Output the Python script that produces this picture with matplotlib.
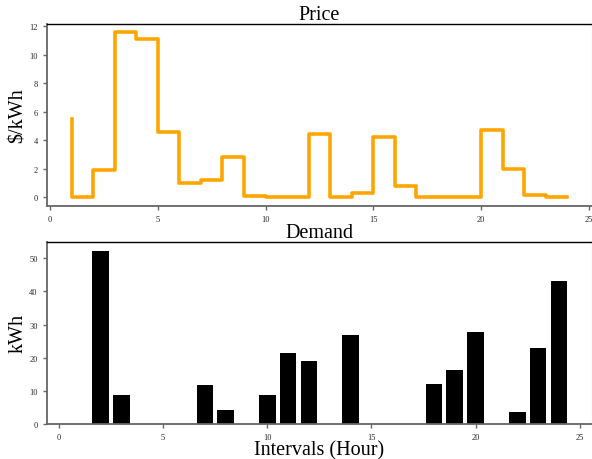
import matplotlib
matplotlib.use("Agg")
import matplotlib.pyplot as plt
import numpy as np

plt.rcParams['font.family'] = ['Liberation Serif', 'DejaVu Serif']

intervals = list(range(1, 25))
price = [5.5, 0.0, 1.9, 11.6, 11.1, 4.6, 1.0, 1.2, 2.85, 0.1, 0.0, 0.0,
         4.45, 0.0, 0.3, 4.2, 0.8, 0.0, 0.0, 0.0, 4.75, 2.0, 0.15, 0.0]
demand = [0.0, 52.4, 8.7, 0.0, 0.0, 0.0, 11.8, 4.1, 0.0, 8.7, 21.5, 19.1,
          0.0, 26.7, 0.0, 0.0, 0.0, 12.0, 16.3, 27.6, 0.0, 3.55, 23.0, 43.2]

fig = plt.figure(figsize=(5.92, 4.6), dpi=100)
ax1 = fig.add_axes([0.079, 0.551, 0.921, 0.395])
ax2 = fig.add_axes([0.079, 0.077, 0.921, 0.395])

ax1.step(intervals, price, where='pre', color='#FFA500', lw=2.6)
ax1.set_title('Price', fontsize=14.5, pad=2)
ax1.set_ylabel('\\$/kWh', fontsize=14.5, labelpad=1)
ax1.set_yticks([0, 2, 4, 6, 8, 10, 12])
ax1.set_xticks([0, 5, 10, 15, 20, 25])

ax2.bar(intervals, demand, width=0.8, color='black')
ax2.set_title('Demand', fontsize=14.5, pad=2)
ax2.set_ylabel('kWh', fontsize=14.5, labelpad=1)
ax2.set_xlabel('Intervals (Hour)', fontsize=14.5, labelpad=0)
ax2.set_xticks([0, 5, 10, 15, 20, 25])
ax2.set_yticks([0, 10, 20, 30, 40, 50])

for ax in (ax1, ax2):
    ax.tick_params(labelsize=6, colors='0.15', length=3, width=1, color='0.4')
    ax.spines['left'].set_color('0.4')
    ax.spines['bottom'].set_color('0.4')
    ax.spines['left'].set_linewidth(1.3)
    ax.spines['bottom'].set_linewidth(1.3)
    ax.spines['top'].set_color('black')
    ax.spines['top'].set_linewidth(1.0)
    ax.spines['right'].set_color('0.85')

fig.savefig('out.png', dpi=100)
